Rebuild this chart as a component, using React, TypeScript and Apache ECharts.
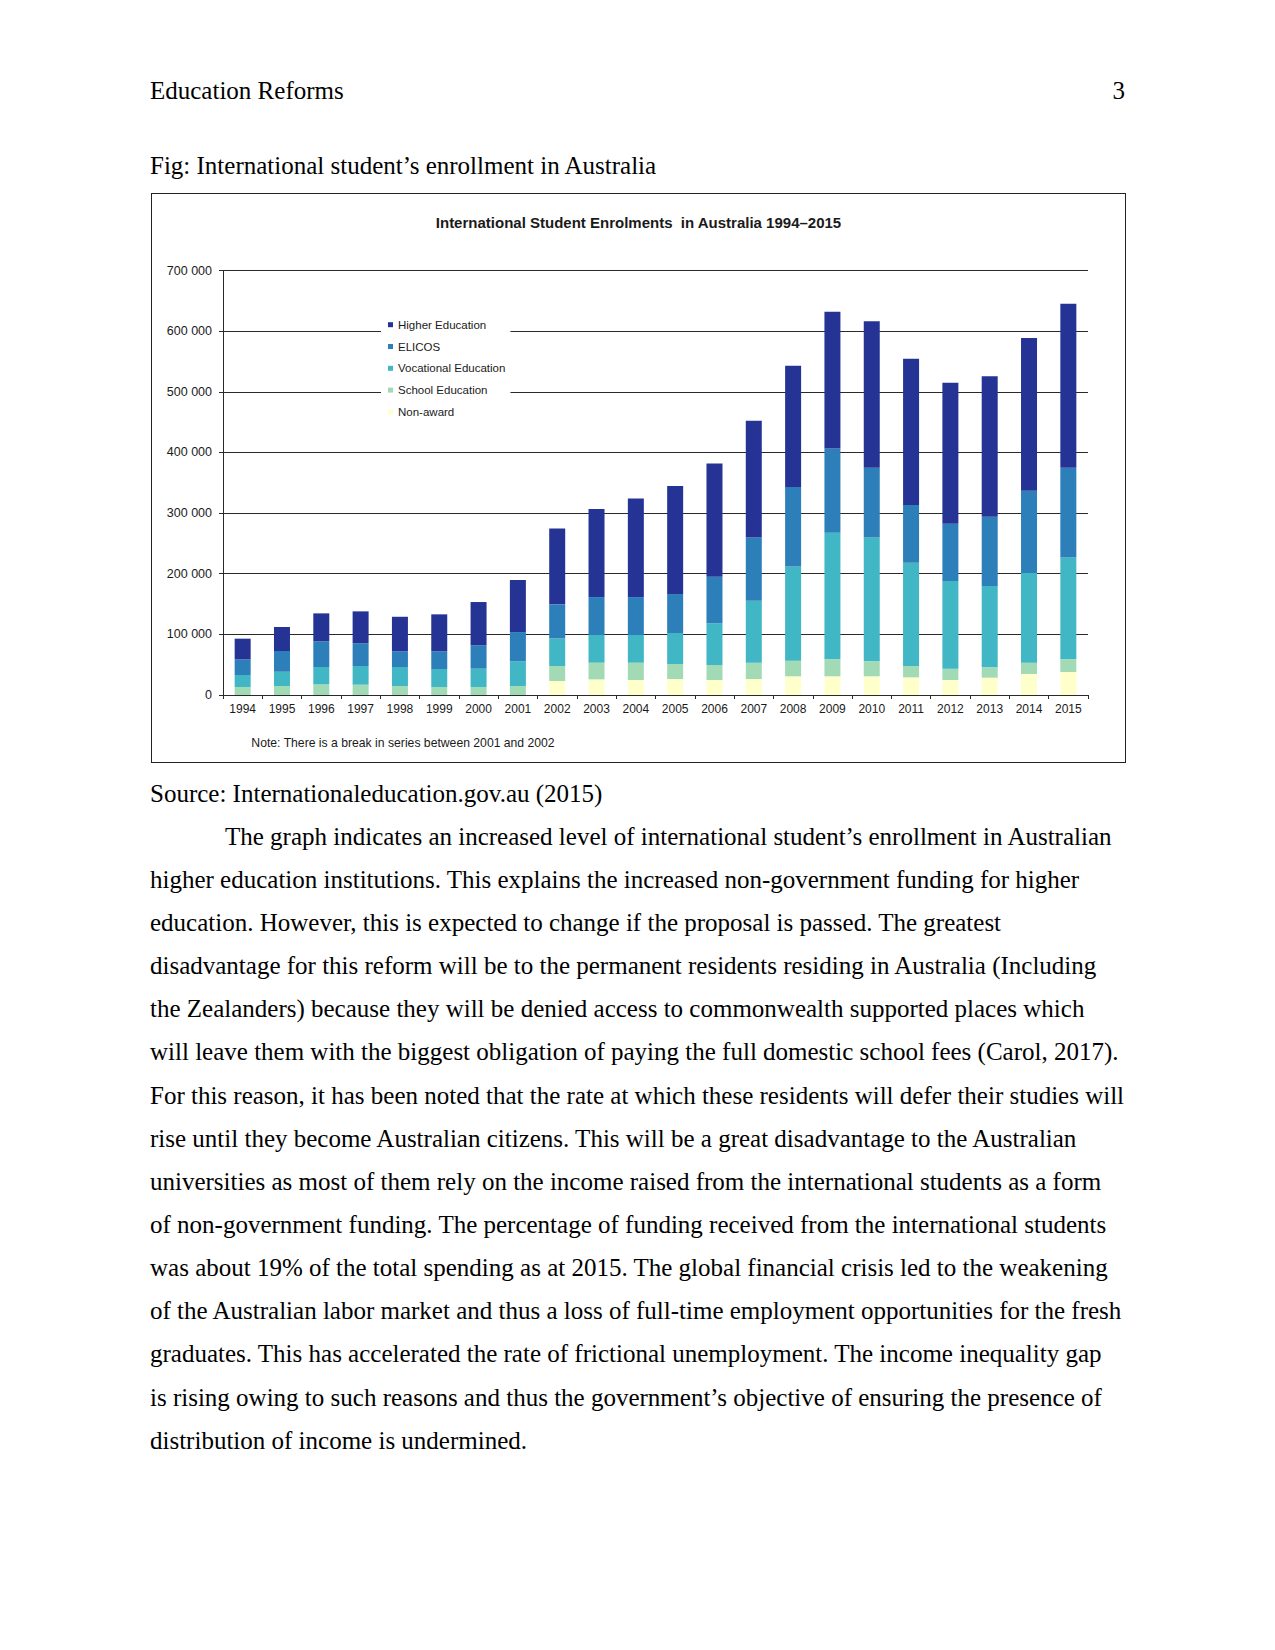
import React, { useEffect, useRef } from "react";
import * as echarts from "echarts";

const years = ["1994","1995","1996","1997","1998","1999","2000","2001","2002","2003","2004","2005","2006","2007","2008","2009","2010","2011","2012","2013","2014","2015"];
const higherEducation = [34100, 39500, 46100, 52700, 57000, 61000, 71400, 85800, 125200, 145100, 162700, 178000, 186900, 192300, 200000, 225300, 241800, 241200, 232400, 231900, 251700, 270300];
const elicos = [25800, 34000, 42300, 37400, 25800, 29100, 38500, 48300, 56100, 62600, 62600, 64300, 76900, 104400, 130800, 139000, 114800, 95100, 94500, 114200, 135700, 147800];
const vocationalEducation = [19800, 23700, 28600, 30800, 31400, 29700, 30200, 40700, 45600, 45600, 45600, 51100, 68600, 102200, 155500, 208800, 204400, 170300, 144500, 134100, 147800, 168100];
const schoolEducation = [13200, 14800, 17600, 17000, 14800, 13200, 13200, 14800, 24700, 27500, 28600, 24700, 24800, 26900, 25800, 28000, 24700, 18700, 18700, 17000, 18700, 20900];
const nonAward = [0, 0, 0, 0, 0, 0, 0, 0, 23100, 25800, 24700, 26400, 24700, 26400, 30800, 30800, 30800, 29100, 24700, 28600, 34600, 37900];
const seriesNames = ["Non-award", "School Education", "Vocational Education", "ELICOS", "Higher Education"];
const legendOrder = ["Higher Education", "ELICOS", "Vocational Education", "School Education", "Non-award"];
const colors = ["#ffffcc", "#a1dab4", "#41b6c4", "#2c7fb8", "#253494"];

const chartTitle = "International Student Enrolments  in Australia 1994\u20132015";
const noteText = "Note: There is a break in series between 2001 and 2002";

const bodyLines = [
  "The graph indicates an increased level of international student\u2019s enrollment in Australian",
  "higher education institutions. This explains the increased non-government funding for higher",
  "education. However, this is expected to change if the proposal is passed. The greatest",
  "disadvantage for this reform will be to the permanent residents residing in Australia (Including",
  "the Zealanders) because they will be denied access to commonwealth supported places which",
  "will leave them with the biggest obligation of paying the full domestic school fees (Carol, 2017).",
  "For this reason, it has been noted that the rate at which these residents will defer their studies will",
  "rise until they become Australian citizens. This will be a great disadvantage to the Australian",
  "universities as most of them rely on the income raised from the international students as a form",
  "of non-government funding. The percentage of funding received from the international students",
  "was about 19% of the total spending as at 2015. The global financial crisis led to the weakening",
  "of the Australian labor market and thus a loss of full-time employment opportunities for the fresh",
  "graduates. This has accelerated the rate of frictional unemployment. The income inequality gap",
  "is rising owing to such reasons and thus the government\u2019s objective of ensuring the presence of",
  "distribution of income is undermined.",
];

if (typeof document !== "undefined") {
  document.body.style.margin = "0";
}

const LH = 43.13;
const serif = "'Liberation Serif', 'Times New Roman', serif";
const sans = "'Liberation Sans', Arial, sans-serif";

function Line({ top, left, children, style }: any) {
  return (
    <div
      style={{
        position: "absolute",
        left,
        top: top - LH / 2,
        height: LH,
        lineHeight: LH + "px",
        fontSize: 25,
        fontFamily: serif,
        color: "#000",
        whiteSpace: "nowrap",
        ...style,
      }}
    >
      {children}
    </div>
  );
}

function Chart() {
  const ref = useRef<HTMLDivElement>(null);
  useEffect(() => {
    if (!ref.current) return;
    const chart = echarts.init(ref.current, undefined, { renderer: "svg" });
    const dataBySeries = [nonAward, schoolEducation, vocationalEducation, elicos, higherEducation];
    chart.setOption({
      animation: false,
      backgroundColor: "#fff",
      color: colors,
      title: {
        text: chartTitle,
        left: "center",
        top: 14,
        textStyle: { fontFamily: sans, fontSize: 15, fontWeight: "bold", color: "#1a1a1a", lineHeight: 18 },
      },
      legend: {
        data: legendOrder,
        orient: "vertical",
        left: 229,
        top: 118.7,
        padding: [5, 5, 5, 7],
        backgroundColor: "#fff",
        itemWidth: 5,
        itemHeight: 5,
        itemGap: 7.8,
        icon: "rect",
        textStyle: { fontFamily: sans, fontSize: 11.5, color: "#1a1a1a", lineHeight: 14 },
      },
      grid: { left: 71, top: 76.5, width: 865, height: 424.5 },
      xAxis: {
        type: "category",
        data: years,
        axisLine: { show: true, lineStyle: { color: "#2a2a2a", width: 1 } },
        axisTick: { show: true, interval: 0, length: 4, lineStyle: { color: "#2a2a2a" } },
        axisLabel: { interval: 0, margin: 8, fontFamily: sans, fontSize: 12, color: "#1a1a1a" },
      },
      yAxis: {
        type: "value",
        min: 0,
        max: 700000,
        interval: 100000,
        axisLine: { show: true, lineStyle: { color: "#2a2a2a", width: 1 } },
        axisTick: { show: true, length: 4, lineStyle: { color: "#2a2a2a" } },
        splitLine: { show: true, lineStyle: { color: "#2a2a2a", width: 1 } },
        axisLabel: {
          margin: 11,
          fontFamily: sans,
          fontSize: 12.5,
          color: "#1a1a1a",
          formatter: (v: number) => String(v).replace(/\B(?=(\d{3})+(?!\d))/g, " "),
        },
      },
      graphic: [
        {
          type: "text",
          x: 251,
          y: 549.3,
          style: {
            text: noteText,
            fontFamily: sans,
            fontSize: 12.2,
            fill: "#1a1a1a",
            textAlign: "center",
            textVerticalAlign: "middle",
          },
        },
      ],
      series: seriesNames.map((name, i) => ({
        name,
        type: "bar",
        stack: "total",
        barWidth: 16,
        data: dataBySeries[i],
        itemStyle: { color: colors[i] },
      })),
    });
    return () => chart.dispose();
  }, []);
  return <div ref={ref} style={{ width: 973, height: 568 }} />;
}

export default function App() {
  return (
    <div style={{ position: "relative", width: 1275, height: 1650, background: "#fff", overflow: "hidden" }}>
      <Line top={90.5} left={150}>Education Reforms</Line>
      <Line top={90.5} left={1025} style={{ width: 100, textAlign: "right" }}>3</Line>
      <Line top={165.2} left={150}>Fig: International student&rsquo;s enrollment in Australia</Line>
      <div
        style={{
          position: "absolute",
          left: 150.5,
          top: 193,
          width: 975,
          height: 570,
          border: "1px solid #222",
          boxSizing: "border-box",
        }}
      >
        <Chart />
      </div>
      <Line top={793.2} left={150}>Source: Internationaleducation.gov.au (2015)</Line>
      {bodyLines.map((t, i) => (
        <Line key={i} top={836.4 + i * LH} left={i === 0 ? 225 : 150}>
          {t}
        </Line>
      ))}
    </div>
  );
}
